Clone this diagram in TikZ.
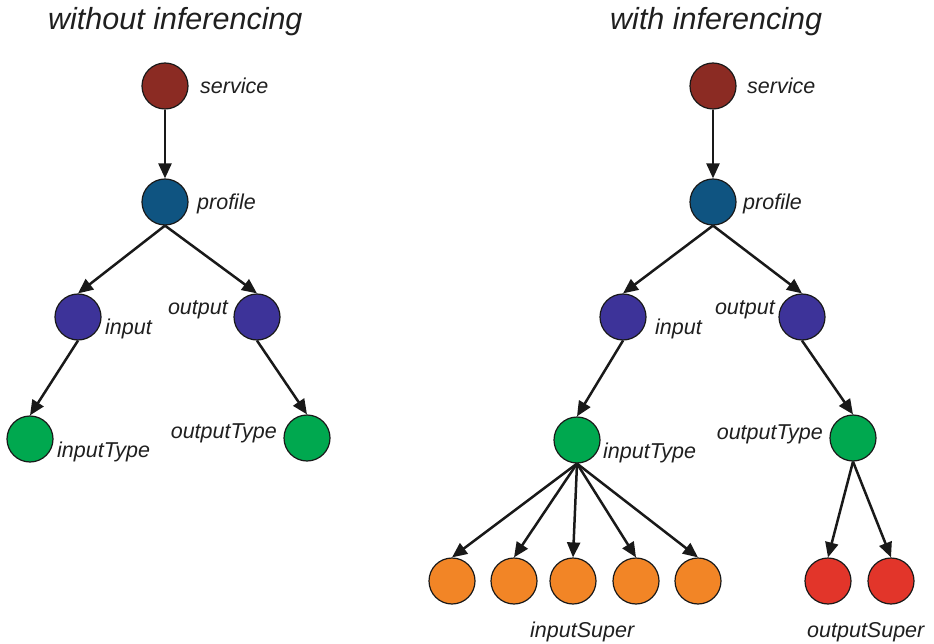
\documentclass[tikz,border=0pt]{standalone}
\usepackage{fontspec}
\setmainfont{Liberation Sans}
\usetikzlibrary{arrows.meta}
\definecolor{cserv}{HTML}{8B2B23}
\definecolor{cprof}{HTML}{0F5481}
\definecolor{cio}{HTML}{3D3399}
\definecolor{ctype}{HTML}{00A84F}
\definecolor{csupin}{HTML}{F28526}
\definecolor{csupout}{HTML}{E2352A}
\begin{document}
\begin{tikzpicture}[x=1pt,y=-1pt,
 nd/.style={circle,draw=black!90,line width=1.2pt,minimum size=46pt,inner sep=0pt},
 lbl/.style={font=\fontsize{21.5}{24}\selectfont\itshape,inner sep=0pt,text=black!88},
 ttl/.style={font=\fontsize{30.5}{34}\selectfont\itshape,inner sep=0pt,text=black!88},
 arr/.style={line width=2.5pt,draw=black!90,-{Triangle[length=15pt,width=13pt]}}]
\useasboundingbox (0,0) rectangle (934,644);
% titles
\node[ttl,anchor=mid west] (t1) at (48,27) {without inferencing};
\node[ttl,anchor=mid west] (t2) at (610,27) {with inferencing};
% left tree
\node[nd,fill=cserv] (ls) at (165,86) {};
\node[nd,fill=cprof] (lp) at (165,202) {};
\node[nd,fill=cio] (li) at (78,317) {};
\node[nd,fill=cio] (lo) at (257,317) {};
\node[nd,fill=ctype] (lit) at (30,439) {};
\node[nd,fill=ctype] (lot) at (307,438) {};
\node[lbl,anchor=mid west] (lsl) at (200,91) {service};
\node[lbl,anchor=mid west] (lpl) at (197,207) {profile};
\node[lbl,anchor=mid west] (lil) at (105,332) {input};
\node[lbl,anchor=mid east] (lol) at (228,312) {output};
\node[lbl,anchor=mid west] (litl) at (57,455) {inputType};
\node[lbl,anchor=mid east] (lotl) at (277,436) {outputType};
\draw[arr] (ls.south) -- (lp.north);
\draw[arr] (lp.south) -- (li.north);
\draw[arr] (lp.south) -- (lo.north);
\draw[arr] (li.south) -- (lit.north);
\draw[arr] (lo.south) -- (lot.north);
% right tree
\node[nd,fill=cserv] (rs) at (713,86) {};
\node[nd,fill=cprof] (rp) at (713,202) {};
\node[nd,fill=cio] (ri) at (623,317) {};
\node[nd,fill=cio] (ro) at (802,317) {};
\node[nd,fill=ctype] (rit) at (577,440) {};
\node[nd,fill=ctype] (rot) at (853,438) {};
\node[nd,fill=csupin] (o1) at (452,581) {};
\node[nd,fill=csupin] (o2) at (514,581) {};
\node[nd,fill=csupin] (o3) at (573,581) {};
\node[nd,fill=csupin] (o4) at (636,581) {};
\node[nd,fill=csupin] (o5) at (698,581) {};
\node[nd,fill=csupout] (r1) at (828,581) {};
\node[nd,fill=csupout] (r2) at (891,581) {};
\node[lbl,anchor=mid west] (rsl) at (747,91) {service};
\node[lbl,anchor=mid west] (rpl) at (743,207) {profile};
\node[lbl,anchor=mid west] (ril) at (655,332) {input};
\node[lbl,anchor=mid east] (rol) at (775,312) {output};
\node[lbl,anchor=mid west] (ritl) at (603,456) {inputType};
\node[lbl,anchor=mid east] (rotl) at (823,437) {outputType};
\node[lbl,anchor=mid west] (isl) at (530,635) {inputSuper};
\node[lbl,anchor=mid west] (osl) at (807,635) {outputSuper};
\draw[arr] (rs.south) -- (rp.north);
\draw[arr] (rp.south) -- (ri.north);
\draw[arr] (rp.south) -- (ro.north);
\draw[arr] (ri.south) -- (rit.north);
\draw[arr] (ro.south) -- (rot.north);
\foreach \t in {o1,o2,o3,o4,o5} \draw[arr] (rit.south) -- (\t.north);
\foreach \t in {r1,r2} \draw[arr] (rot.south) -- (\t.north);
\end{tikzpicture}
\end{document}
